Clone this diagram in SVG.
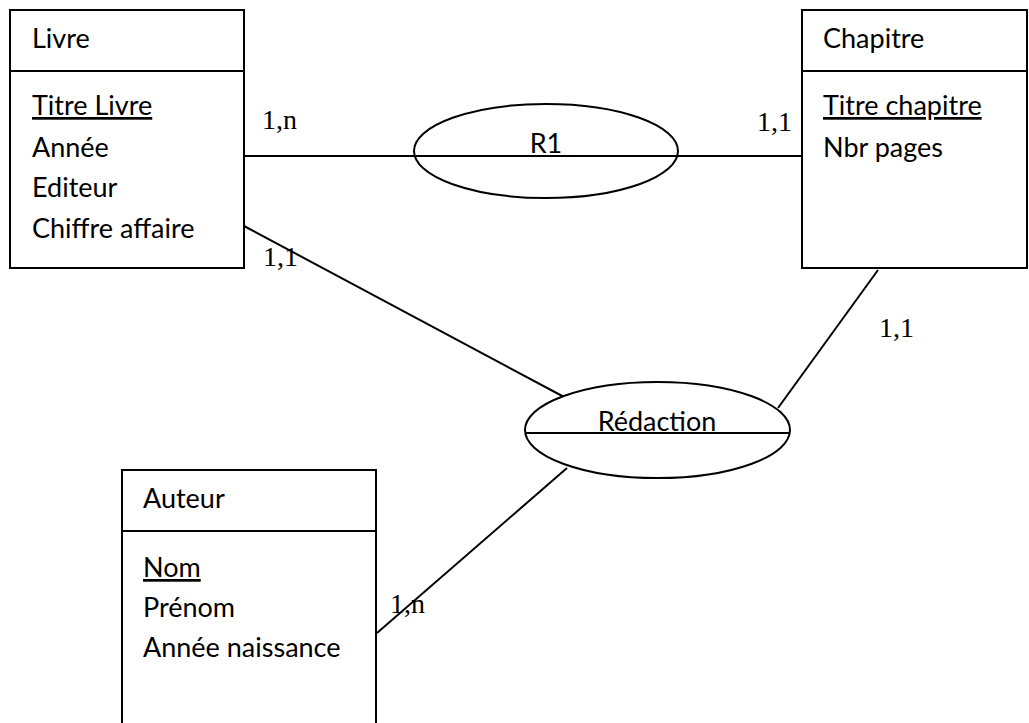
<svg xmlns="http://www.w3.org/2000/svg" width="1029" height="723" viewBox="0 0 1029 723">
<style>
.box{fill:#fff;stroke:#000;stroke-width:2}
.sep{stroke:#000;stroke-width:2}
.rel{fill:#fff;stroke:#000;stroke-width:2}
.t{font-family:Lato,"Liberation Sans",sans-serif;font-size:27px;fill:#000}
.u{text-decoration:underline}
.c{font-family:"Liberation Serif",serif;font-size:28px;fill:#000}
.ln{stroke:#000;stroke-width:2;fill:none}
</style>
<rect width="1029" height="723" fill="#fff"/>
<g id="connectors">
<line class="ln" x1="244" y1="156" x2="802" y2="156"/>
<line class="ln" x1="244" y1="226" x2="566" y2="398"/>
<line class="ln" x1="878" y1="270" x2="778" y2="408"/>
<line class="ln" x1="567" y1="468" x2="377" y2="633"/>
</g>
<g id="livre">
<rect class="box" x="10" y="10" width="234" height="258"/>
<line class="sep" x1="10" y1="71" x2="244" y2="71"/>
<text class="t" x="32" y="48">Livre</text>
<text class="t u" x="32" y="115">Titre Livre</text>
<text class="t" x="32" y="157">Année</text>
<text class="t" x="32" y="197">Editeur</text>
<text class="t" x="32" y="238">Chiffre affaire</text>
</g>
<g id="chapitre">
<rect class="box" x="802" y="10" width="225" height="258"/>
<line class="sep" x1="802" y1="71" x2="1027" y2="71"/>
<text class="t" x="823" y="48">Chapitre</text>
<text class="t u" x="823" y="115">Titre chapitre</text>
<text class="t" x="823" y="157">Nbr pages</text>
</g>
<g id="auteur">
<path class="ln" d="M122 723 V470 H376 V723"/>
<line class="sep" x1="122" y1="531" x2="376" y2="531"/>
<text class="t" x="143" y="508">Auteur</text>
<text class="t u" x="143" y="577">Nom</text>
<text class="t" x="143" y="617">Prénom</text>
<text class="t" x="143" y="657">Année naissance</text>
</g>
<g id="r1">
<ellipse class="rel" cx="546" cy="151" rx="132" ry="47"/>
<line class="sep" x1="414" y1="156" x2="678" y2="156"/>
<text class="t" x="546" y="153" text-anchor="middle">R1</text>
</g>
<g id="redaction">
<ellipse class="rel" cx="657.5" cy="430" rx="132.5" ry="48"/>
<line class="sep" x1="525" y1="433" x2="790" y2="433"/>
<text class="t" x="657" y="431" text-anchor="middle">Rédaction</text>
</g>
<g id="cardinalities">
<text class="c" x="262" y="129">1,n</text>
<text class="c" x="757" y="131">1,1</text>
<text class="c" x="263" y="266">1,1</text>
<text class="c" x="879" y="337">1,1</text>
<text class="c" x="390" y="613">1,n</text>
</g>
</svg>
